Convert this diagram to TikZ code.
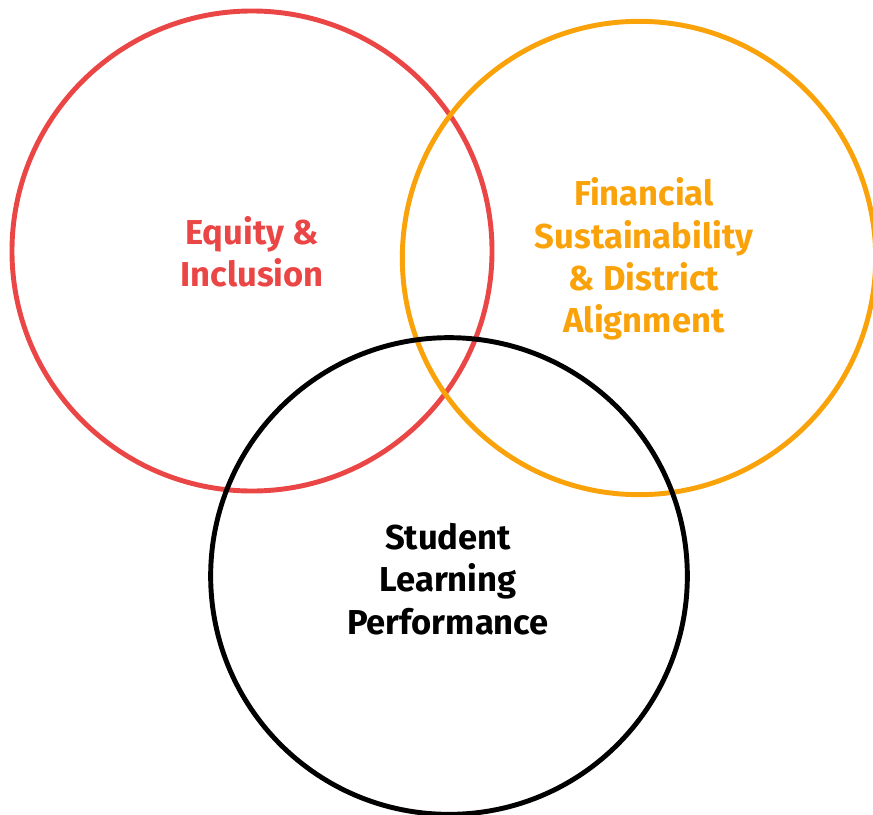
\documentclass[tikz,border=0pt]{standalone}
\usepackage{fontspec}
\setmainfont{Fira Sans}
\usepackage{xcolor}
\usetikzlibrary{positioning}

\definecolor{eqred}{HTML}{EB4646}
\definecolor{finorange}{HTML}{FAA20A}

\tikzset{
  ring/.style={circle, draw, line width=4.2pt, inner sep=0pt},
  label/.style={align=center, font=\fontsize{29.5}{36}\selectfont\bfseries}
}

\begin{document}
\begin{tikzpicture}[x=0.03cm, y=-0.03cm]
    \useasboundingbox (0,0) rectangle (873,814);

    \node[ring, draw=eqred, minimum size=14.4cm] (equity) at (252,251) {};
    \node[ring, draw=finorange, minimum size=14.2cm] (finance) at (639,258) {};
    \node[ring, draw=black, minimum size=14.3cm] (student) at (449,576) {};

    \node[label, text=eqred] (equitytext) at (252,252) {Equity \&\\Inclusion};
    \node[label, text=finorange] (financetext) at (644,259) {Financial\\Sustainability\\\& District\\Alignment};
    \node[label, text=black] (studenttext) at (448,579) {Student\\Learning\\Performance};
\end{tikzpicture}
\end{document}
